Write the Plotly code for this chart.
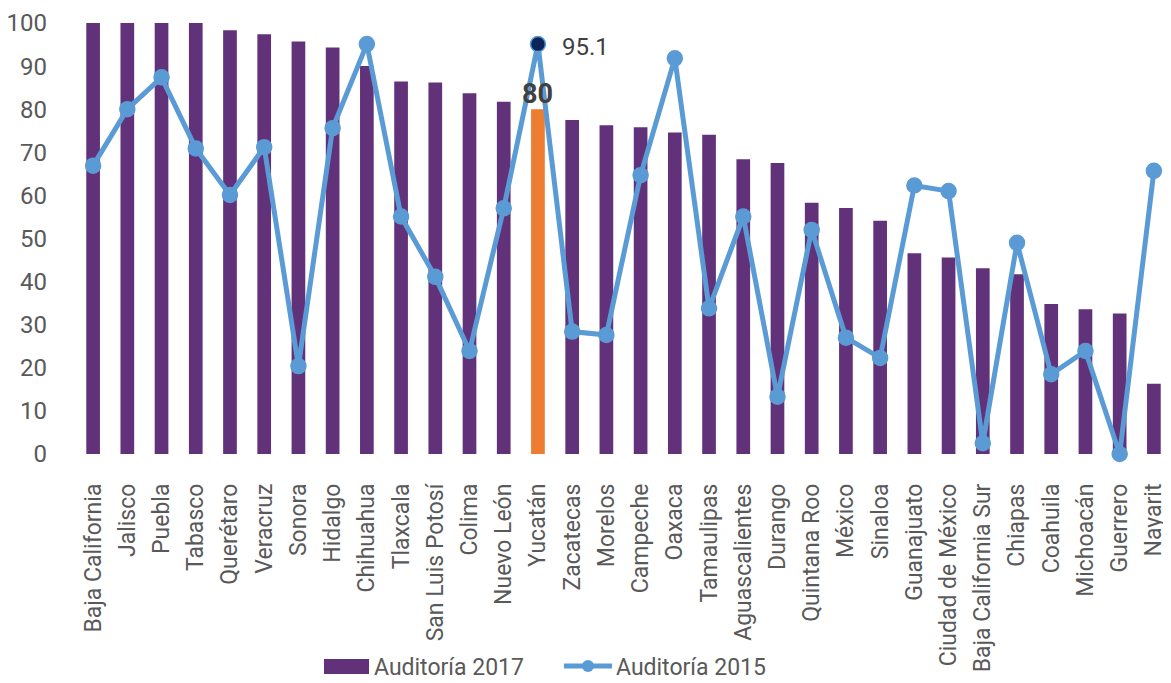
import plotly.graph_objects as go

states = ["Baja California", "Jalisco", "Puebla", "Tabasco", "Querétaro", "Veracruz", "Sonora",
          "Hidalgo", "Chihuahua", "Tlaxcala", "San Luis Potosí", "Colima", "Nuevo León", "Yucatán",
          "Zacatecas", "Morelos", "Campeche", "Oaxaca", "Tamaulipas", "Aguascalientes", "Durango",
          "Quintana Roo", "México", "Sinaloa", "Guanajuato", "Ciudad de México",
          "Baja California Sur", "Chiapas", "Coahuila", "Michoacán", "Guerrero", "Nayarit"]

audit_2017 = [100, 100, 100, 100, 98.3, 97.4, 95.7, 94.3, 90.0, 86.4, 86.2, 83.7, 81.7, 80,
              77.5, 76.3, 75.8, 74.6, 74.1, 68.4, 67.5, 58.3, 57.1, 54.1, 46.6, 45.6, 43.1,
              41.7, 34.8, 33.6, 32.6, 16.3]

audit_2015 = [66.9, 80.0, 87.4, 70.9, 60.1, 71.2, 20.4, 75.6, 95.1, 55.1, 41.1, 23.9, 57.0, 95.1,
              28.4, 27.6, 64.7, 91.8, 33.8, 55.1, 13.3, 52.0, 27.0, 22.3, 62.3, 61.0, 2.5,
              49.0, 18.5, 23.9, 0, 65.7]

series_names = ["Auditoría 2017", "Auditoría 2015"]

highlight = "Yucatán"
hi = states.index(highlight)

PURPLE = "#61327A"
ORANGE = "#ED7D31"
BLUE = "#5B9BD5"
NAVY = "#0B2559"
GREY = "#595959"
DARK = "#404040"
FONT = "Roboto"

# figure geometry (page has 8px body margin)
W, H = 1163, 675
ML, MR, MT, MB = 68, 0, 15, 229
PW, PH = W - ML - MR, H - MT - MB


def px(xpage):
    return (xpage - 8 - ML) / PW


def py(ypage):
    return (H - MB - (ypage - 8)) / PH


bar_colors = [ORANGE if s == highlight else PURPLE for s in states]
mk_colors = [NAVY if s == highlight else BLUE for s in states]

fig = go.Figure()
fig.add_trace(go.Bar(
    x=states, y=audit_2017, name=series_names[0],
    marker=dict(color=bar_colors, line=dict(width=0)),
    width=0.4, showlegend=False,
))
fig.add_trace(go.Scatter(
    x=states, y=audit_2015, name=series_names[1], mode="lines+markers",
    line=dict(color=BLUE, width=5),
    marker=dict(size=15, color=mk_colors, line=dict(color=BLUE, width=1.5)),
    cliponaxis=False, showlegend=False,
))

fig.add_annotation(x=highlight, y=audit_2017[hi], text="<b>%g</b>" % audit_2017[hi], showarrow=False,
                   yanchor="bottom", yshift=-3, font=dict(family=FONT, size=27, color=DARK))
fig.add_annotation(x=highlight, y=audit_2015[hi], text="%g" % audit_2015[hi], showarrow=False,
                   xanchor="left", xshift=22, yshift=-3, font=dict(family=FONT, size=24, color=DARK))

# custom legend
fig.add_shape(type="rect", xref="paper", yref="paper", x0=px(324), x1=px(369), y0=py(674), y1=py(659),
              fillcolor=PURPLE, line=dict(width=0))
fig.add_annotation(xref="paper", yref="paper", x=px(372), y=py(667), text=series_names[0],
                   showarrow=False, xanchor="left", yanchor="middle",
                   font=dict(family=FONT, size=23, color=GREY))
fig.add_shape(type="line", xref="paper", yref="paper", x0=px(564), x1=px(612), y0=py(666), y1=py(666),
              line=dict(color=BLUE, width=5))
fig.add_shape(type="circle", xref="paper", yref="paper", x0=px(582), x1=px(594), y0=py(672), y1=py(660),
              fillcolor=BLUE, line=dict(width=0))
fig.add_annotation(xref="paper", yref="paper", x=px(614), y=py(667), text=series_names[1],
                   showarrow=False, xanchor="left", yanchor="middle",
                   font=dict(family=FONT, size=23, color=GREY))

fig.update_layout(
    width=W, height=H,
    margin=dict(l=ML, r=MR, t=MT, b=MB, autoexpand=False),
    paper_bgcolor="white", plot_bgcolor="white",
    font=dict(family=FONT, color=GREY, size=22),
    showlegend=False,
    xaxis=dict(type="category", range=[-0.5, len(states) - 0.5], tickangle=-90,
               showgrid=False, zeroline=False, showline=False,
               ticks="", automargin=False, tickfont=dict(family=FONT, size=23, color=GREY),
               ticklabelstandoff=24),
    yaxis=dict(range=[0, 100], dtick=10, showgrid=False, zeroline=False, showline=False,
               ticks="", automargin=False, tickfont=dict(family=FONT, size=24, color=GREY),
               ticklabelstandoff=28),
)

fig.write_html("out.html")
